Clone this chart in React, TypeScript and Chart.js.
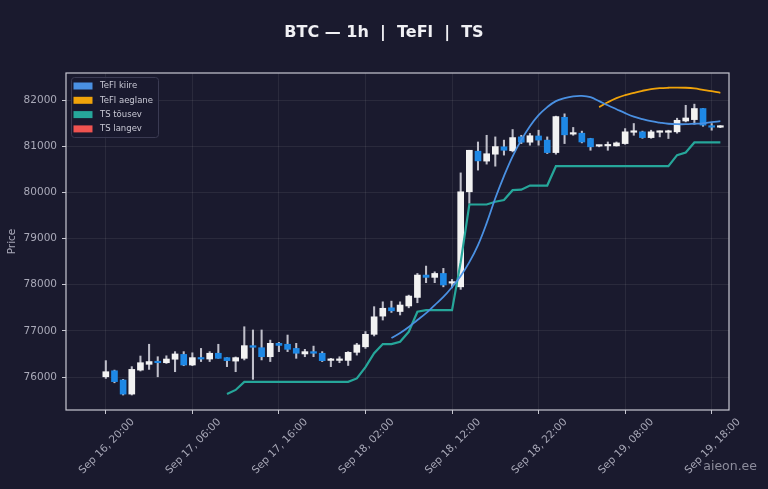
import { useEffect, useRef } from "react";
import { Chart, registerables } from "chart.js";

Chart.register(...registerables);

// hourly candles, index 0 = Sep 16, 20:00
const openP = [
  76005, 76135, 75935, 75630, 76150, 76275, 76325, 76310, 76385, 76490,
  76260, 76420, 76390, 76515, 76420, 76345, 76405, 76680, 76635, 76440,
  76730, 76710, 76620, 76500, 76550, 76515, 76360, 76360, 76360, 76535,
  76655, 76925, 77320, 77500, 77420, 77540, 77725, 78210, 78160, 78245,
  78035, 77955, 80015, 80895, 80680, 80830, 80990, 80905, 81205, 81090,
  81225, 81135, 80865, 81630, 81265, 81285, 81170, 81005, 81010, 81010,
  81060, 81305, 81315, 81190, 81305, 81305, 81315, 81550, 81580, 81820,
  81430, 81415,
];
const highP = [
  76355, 76150, 75950, 76225, 76455, 76710, 76440, 76460, 76550, 76550,
  76525, 76620, 76550, 76710, 76420, 76435, 77090, 77020, 77020, 76800,
  76750, 76910, 76730, 76600, 76670, 76550, 76405, 76440, 76550, 76730,
  76985, 77525, 77630, 77645, 77630, 77775, 78245, 78405, 78280, 78355,
  78115, 80425, 80915, 81095, 81240, 81205, 81135, 81365, 81240, 81280,
  81350, 81205, 81655, 81705, 81410, 81330, 81175, 81025, 81095, 81095,
  81385, 81495, 81330, 81350, 81335, 81350, 81610, 81890, 81915, 81820,
  81495, 81450,
];
const lowP = [
  75970, 75875, 75610, 75610, 76130, 76165, 76005, 76295, 76115, 76245,
  76245, 76335, 76335, 76405, 76225, 76115, 76370, 75950, 76370, 76335,
  76550, 76550, 76405, 76440, 76440, 76335, 76225, 76310, 76250, 76475,
  76620, 76890, 77235, 77400, 77345, 77500, 77610, 78045, 78045, 77955,
  77935, 77900, 79765, 80485, 80615, 80570, 80810, 80880, 81060, 81025,
  81025, 80845, 80830, 81060, 81240, 81075, 80915, 80990, 80915, 81005,
  81045, 81240, 81175, 81175, 81205, 81170, 81285, 81530, 81480, 81435,
  81350, 81405,
];
const closeP = [
  76115, 75900, 75630, 76165, 76310, 76335, 76310, 76390, 76500, 76260,
  76420, 76390, 76515, 76405, 76355, 76420, 76680, 76645, 76440, 76730,
  76685, 76600, 76515, 76550, 76515, 76355, 76375, 76370, 76535, 76695,
  76925, 77305, 77490, 77435, 77560, 77755, 78210, 78160, 78245, 77995,
  78045, 80015, 80915, 80685, 80840, 80995, 80915, 81190, 81090, 81230,
  81135, 80865, 81645, 81250, 81280, 81095, 80990, 81015, 81015, 81075,
  81315, 81320, 81190, 81315, 81315, 81320, 81565, 81615, 81820, 81460,
  81415, 81425,
];

// indicator lines, each starting at the given candle index
const kiireStart = 33;
const teflKiire = [
  76845, 76955, 77085, 77235, 77385, 77560, 77735, 77950, 78190, 78490,
  78860, 79335, 79875, 80355, 80785, 81135, 81435, 81675, 81850, 81980,
  82045, 82085, 82095, 82065, 81980, 81890, 81805, 81720, 81645, 81590,
  81545, 81515, 81490, 81480, 81480, 81490, 81500, 81525, 81545,
];
const aeglaneStart = 57;
const teflAeglane = [
  81850, 81955, 82045, 82110, 82160, 82205, 82240, 82260, 82270, 82275,
  82270, 82255, 82225, 82195, 82160,
];
const tousevStart = 14;
const tsTousev = [
  75630, 75720, 75895, 75895, 75895, 75895, 75895, 75895, 75895, 75895,
  75895, 75895, 75895, 75895, 75895, 75970, 76215, 76515, 76715, 76715,
  76765, 76980, 77415, 77450, 77450, 77450, 77450, 78490, 79740, 79740,
  79740, 79800, 79835, 80050, 80060, 80150, 80150, 80150, 80570, 80570,
  80570, 80570, 80570, 80570, 80570, 80570, 80570, 80570, 80570, 80570,
  80570, 80570, 80810, 80865, 81085, 81085, 81085, 81085,
];
const tsLangev: number[] = [];

const xTickValues = [0, 10, 20, 30, 40, 50, 60, 70];
const xTickLabels = [
  "Sep 16, 20:00",
  "Sep 17, 06:00",
  "Sep 17, 16:00",
  "Sep 18, 02:00",
  "Sep 18, 12:00",
  "Sep 18, 22:00",
  "Sep 19, 08:00",
  "Sep 19, 18:00",
];
const yTickValues = [76000, 77000, 78000, 79000, 80000, 81000, 82000];

const BG = "#1a1a2e";
const FONT = "'DejaVu Sans', sans-serif";
const TEXT = "#a9a9b8";
const UP = "#f2f2f2";
const DOWN = "#1e88e5";

const legendItems = [
  { label: "TeFl kiire", color: "#4a90e2" },
  { label: "TeFl aeglane", color: "#f0a30a" },
  { label: "TS tõusev", color: "#26a69a" },
  { label: "TS langev", color: "#ef5350" },
];

const toPoints = (vals: number[], start: number) =>
  vals.map((v, k) => ({ x: start + k, y: v }));

const decorPlugin = {
  id: "decor",
  beforeDraw(chart: Chart) {
    const { ctx, width, height } = chart;
    ctx.save();
    ctx.fillStyle = BG;
    ctx.fillRect(0, 0, width, height);
    ctx.restore();
  },
  afterDraw(chart: Chart) {
    const { ctx, chartArea } = chart;
    ctx.save();
    // frame
    ctx.strokeStyle = "#c8c8d2";
    ctx.lineWidth = 1.2;
    ctx.strokeRect(chartArea.left, chartArea.top, chartArea.right - chartArea.left, chartArea.bottom - chartArea.top);

    // title
    ctx.fillStyle = "#f0f0f4";
    ctx.font = `bold 16px ${FONT}`;
    ctx.textAlign = "center";
    ctx.textBaseline = "middle";
    ctx.fillText("BTC — 1h  |  TeFl  |  TS", 384, 33);

    // legend inside plot
    const lx = chartArea.left + 5;
    const ly = chartArea.top + 4;
    ctx.fillStyle = "rgba(26,26,46,0.85)";
    ctx.strokeStyle = "#3a3a52";
    ctx.lineWidth = 1;
    ctx.beginPath();
    ctx.roundRect(lx + 0.5, ly + 0.5, 87, 60, 3);
    ctx.fill();
    ctx.stroke();
    ctx.font = `8.5px ${FONT}`;
    ctx.textAlign = "left";
    legendItems.forEach((it, k) => {
      const cy = ly + 9 + k * 14.3;
      ctx.fillStyle = it.color;
      ctx.fillRect(lx + 2.5, cy - 3.5, 19, 7);
      ctx.fillStyle = "#c8c8d4";
      ctx.fillText(it.label, lx + 29, cy);
    });

    // watermark
    ctx.fillStyle = "#8d8d9c";
    ctx.font = `12.5px ${FONT}`;
    ctx.textAlign = "right";
    ctx.fillText("aieon.ee", 757, 467);
    ctx.restore();
  },
};

export default function App() {
  const chartRef = useRef<HTMLCanvasElement>(null);
  const chartInstance = useRef<Chart | null>(null);

  useEffect(() => {
    if (!chartRef.current) return;
    if (chartInstance.current) chartInstance.current.destroy();
    const ctx = chartRef.current.getContext("2d");
    if (!ctx) return;

    const candleColors = openP.map((o, i) => (closeP[i] >= o ? UP : DOWN));
    const tickFont = { family: FONT, size: 10.5 };

    chartInstance.current = new Chart(ctx, {
      type: "bar",
      data: {
        datasets: [
          {
            type: "line",
            label: legendItems[0].label,
            data: toPoints(teflKiire, kiireStart),
            borderColor: legendItems[0].color,
            borderWidth: 1.8,
            pointRadius: 0,
            tension: 0.4,
            order: 1,
          },
          {
            type: "line",
            label: legendItems[1].label,
            data: toPoints(teflAeglane, aeglaneStart),
            borderColor: legendItems[1].color,
            borderWidth: 1.8,
            pointRadius: 0,
            tension: 0.4,
            order: 1,
          },
          {
            type: "line",
            label: legendItems[2].label,
            data: toPoints(tsTousev, tousevStart),
            borderColor: legendItems[2].color,
            borderWidth: 2.2,
            pointRadius: 0,
            tension: 0,
            order: 1,
          },
          {
            type: "line",
            label: legendItems[3].label,
            data: toPoints(tsLangev, 0),
            borderColor: legendItems[3].color,
            borderWidth: 2.2,
            pointRadius: 0,
            order: 1,
          },
          {
            type: "bar",
            label: "body",
            data: openP.map((o, i) => ({ x: i, y: [o, closeP[i]] })) as any,
            backgroundColor: candleColors,
            borderWidth: 0,
            barThickness: 6,
            minBarLength: 1.5,
            grouped: false,
            order: 2,
          },
          {
            type: "bar",
            label: "wick",
            data: lowP.map((l, i) => ({ x: i, y: [l, highP[i]] })) as any,
            backgroundColor: "#bfbfca",
            borderWidth: 0,
            barThickness: 1.4,
            grouped: false,
            order: 3,
          },
        ],
      },
      options: {
        animation: false,
        responsive: true,
        maintainAspectRatio: false,
        layout: { padding: { left: 0, right: 39, top: 73, bottom: 0 } },
        plugins: {
          legend: { display: false },
          title: { display: false },
          tooltip: { enabled: false },
        },
        scales: {
          x: {
            type: "linear",
            min: -4.6,
            max: 72,
            offset: false,
            grid: {
              offset: false,
              color: "rgba(255,255,255,0.07)",
              tickColor: "#c8c8d2",
              tickLength: 4,
            },
            border: { display: false },
            afterBuildTicks: (axis: any) => {
              axis.ticks = xTickValues.map((v) => ({ value: v }));
            },
            afterFit: (axis: any) => {
              axis.height = 79;
            },
            ticks: {
              autoSkip: false,
              minRotation: 45,
              maxRotation: 45,
              labelOffset: 27,
              padding: 2,
              color: TEXT,
              font: tickFont,
              callback: (_v: any, idx: number) => xTickLabels[idx],
            },
          },
          y: {
            type: "linear",
            min: 75285,
            max: 82590,
            grid: {
              color: "rgba(255,255,255,0.07)",
              tickColor: "#c8c8d2",
              tickLength: 4,
            },
            border: { display: false },
            afterBuildTicks: (axis: any) => {
              axis.ticks = yTickValues.map((v) => ({ value: v }));
            },
            afterFit: (axis: any) => {
              axis.width = 66;
            },
            ticks: {
              color: TEXT,
              font: tickFont,
              padding: 5,
              callback: (v: any) => String(v),
            },
            title: {
              display: true,
              text: "Price",
              color: TEXT,
              font: tickFont,
              padding: { top: 6, bottom: 0 },
            },
          },
        },
      },
      plugins: [decorPlugin],
    });

    return () => {
      if (chartInstance.current) {
        chartInstance.current.destroy();
        chartInstance.current = null;
      }
    };
  }, []);

  return (
    <div style={{ position: "fixed", left: 0, top: 0, width: 768, height: 489, background: BG }}>
      <canvas ref={chartRef} />
    </div>
  );
}
